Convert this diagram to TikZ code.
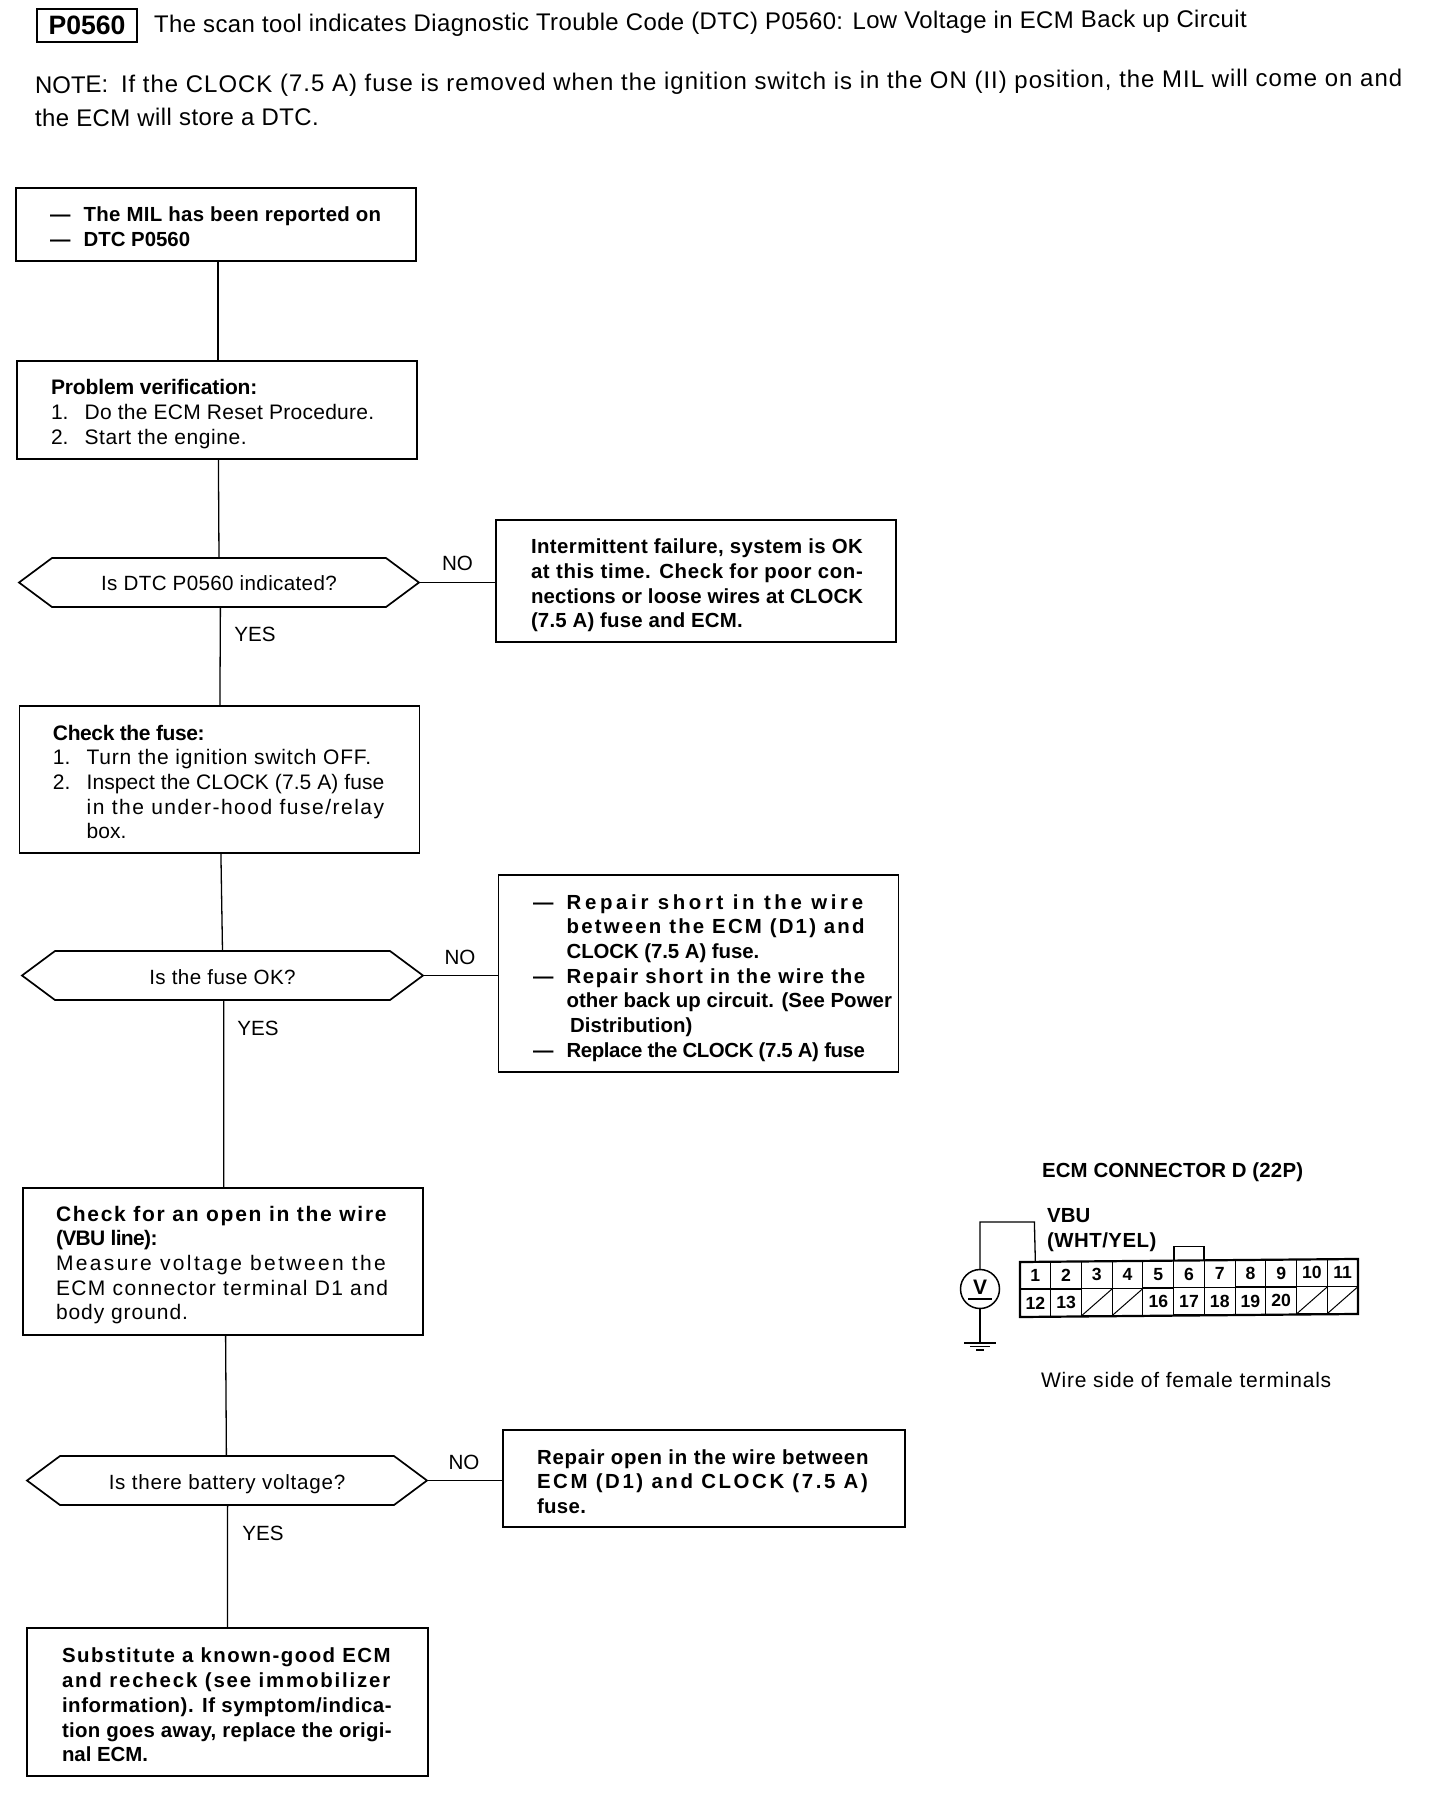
\documentclass[tikz,border=0pt]{standalone}
\usepackage{fontspec}
\usepackage{xstring}
\setmainfont{Liberation Sans}
\makeatletter
\newcommand{\fit}[2]{{\setbox0\hbox{#2}\StrLen{#2}[\fln]\StrCount{#2}{ }[\fsp]\pgfmathsetmacro{\lsv}{(#1*0.573-\the\wd0)/(\fln-\fsp)/\f@size*100}\addfontfeature{LetterSpace=\lsv}#2}}
\makeatother
\newcommand{\itm}[2]{\makebox[16.8pt][l]{#1}#2}
\newcommand{\cont}[1]{\hspace*{16.8pt}#1}
\newcommand{\hexa}[1]{\draw[bline] (#1.west) -- ([xshift=16.5pt]#1.north west) -- ([xshift=-16.5pt]#1.north east) -- (#1.east) -- ([xshift=-16.5pt]#1.south east) -- ([xshift=16.5pt]#1.south west) -- cycle;}
\tikzset{
  bline/.style={line width=0.85pt,black},
  wire/.style={line width=0.65pt,black},
  boxn/.style={draw,line width=0.85pt,inner sep=0pt,outer sep=0pt},
  hexn/.style={inner sep=0pt,outer sep=0pt,font=\fontsize{10.3}{12.4}\selectfont},
  txt/.style={anchor=west,align=left,inner sep=0pt,outer sep=0pt,font=\fontsize{10.5}{12.35}\selectfont},
  btxt/.style={txt,font=\fontsize{10.2}{12.35}\selectfont\bfseries},
  lbl/.style={inner sep=0pt,outer sep=0pt,font=\fontsize{10.3}{12}\selectfont},
  cell/.style={draw,line width=0.5pt,inner sep=0pt,outer sep=0pt,minimum width=15.36pt,minimum height=13.5pt,font=\fontsize{8.8}{10}\selectfont\bfseries},
}
\begin{document}
\begin{tikzpicture}[x=0.5pt,y=-0.5pt]
\useasboundingbox (0,0) rectangle (1456,1796);
% header
\node[draw,line width=0.9pt,inner sep=0pt,outer sep=0pt,minimum width=50pt,minimum height=16.5pt,font=\fontsize{13.3}{14}\selectfont\bfseries] (code) at (87,25.5) {P0560};
\node[txt,rotate=0.3,font=\fontsize{12}{13}\selectfont] (head) at (154,26.5) {\fit{954}{The scan tool indicates Diagnostic Trouble Code (DTC) P0560: Low Voltage in ECM Back up Circuit}};
\node[txt,rotate=0.3,font=\fontsize{12}{13}\selectfont] (note1) at (35,87) {\makebox[43pt][l]{NOTE:}\fit{1119}{If the CLOCK (7.5 A) fuse is removed when the ignition switch is in the ON (II) position, the MIL will come on and}};
\node[txt,rotate=0.3,font=\fontsize{12}{13}\selectfont] (note2) at (35,118) {\fit{248}{the ECM will store a DTC.}};
% flow boxes
\node[boxn,minimum width=200pt,minimum height=36.5pt] (b1) at (216,224.5) {};
\node[btxt] (b1t) at (50,227) {\itm{---}{\fit{260}{The MIL has been reported on}}\\\itm{---}{\fit{93}{DTC P0560}}};
\node[boxn,minimum width=200pt,minimum height=49pt] (b2) at (217,410) {};
\node[txt] (b2t) at (51,414) {{\bfseries\fit{180}{Problem verification:}}\\\itm{1.}{\fit{253}{Do the ECM Reset Procedure.}}\\\itm{2.}{\fit{142}{Start the engine.}}};
\node[hexn,minimum width=200pt,minimum height=24.5pt] (d1) at (219,582.5) {\raisebox{-4.2pt}[0pt][0pt]{\fit{206}{Is DTC P0560 indicated?}}};
\hexa{d1}
\node[boxn,minimum width=200pt,minimum height=61pt] (n1) at (696,581) {};
\node[btxt] (n1t) at (531,585.5) {\fit{290}{Intermittent failure, system is OK}\\\fit{290}{at this time. Check for poor con-}\\\fit{290}{nections or loose wires at CLOCK}\\\fit{185}{(7.5 A) fuse and ECM.}};
\node[boxn,minimum width=200pt,minimum height=73.5pt] (b3) at (219.5,779.5) {};
\node[txt] (b3t) at (53,782) {{\bfseries\fit{132}{Check the fuse:}}\\\itm{1.}{\fit{249}{Turn the ignition switch OFF.}}\\\itm{2.}{\fit{260}{Inspect the CLOCK (7.5 A) fuse}}\\\cont{\fit{261}{in the under-hood fuse/relay}}\\\cont{\fit{35}{box.}}};
\node[hexn,minimum width=200.5pt,minimum height=24.5pt] (d2) at (222.5,975.5) {\raisebox{-4.4pt}[0pt][0pt]{\fit{128}{Is the fuse OK?}}};
\hexa{d2}
\node[boxn,minimum width=200pt,minimum height=98.5pt] (n2) at (698.5,973.5) {};
\node[btxt] (n2t) at (533,978) {\itm{---}{\fit{262}{Repair short in the wire}}\\\cont{\fit{262}{between the ECM (D1) and}}\\\cont{\fit{168}{CLOCK (7.5 A) fuse.}}\\\itm{---}{\fit{262}{Repair short in the wire the}}\\\cont{\fit{284}{other back up circuit. (See Power}}\\\hspace*{18.5pt}\fit{107}{Distribution)}\\\itm{---}{\fit{260}{Replace the CLOCK (7.5 A) fuse}}};
\node[boxn,minimum width=200pt,minimum height=73.5pt] (b4) at (223,1261.5) {};
\node[txt] (b4t) at (56,1265) {{\bfseries\fit{290}{Check for an open in the wire}}\\{\bfseries\fit{88}{(VBU line):}}\\\fit{290}{Measure voltage between the}\\\fit{291}{ECM connector terminal D1 and}\\\fit{116}{body ground.}};
\node[hexn,minimum width=200pt,minimum height=24.5pt] (d3) at (227,1480.5) {\raisebox{-4.6pt}[0pt][0pt]{\fit{207}{Is there battery voltage?}}};
\hexa{d3}
\node[boxn,minimum width=201pt,minimum height=48.5pt] (n3) at (704,1478.5) {};
\node[btxt] (n3t) at (537,1481.5) {\fit{290}{Repair open in the wire between}\\\fit{291}{ECM (D1) and CLOCK (7.5 A)}\\\fit{43}{fuse.}};
\node[boxn,minimum width=200.5pt,minimum height=74pt] (b5) at (227.5,1702) {};
\node[btxt] (b5t) at (62,1705) {\fit{288}{Substitute a known-good ECM}\\\fit{288}{and recheck (see immobilizer}\\\fit{288}{information). If symptom/indica-}\\\fit{288}{tion goes away, replace the origi-}\\\fit{75}{nal ECM.}};
% connectors
\draw[wire] ([xshift=1pt]b1.south) -- ([xshift=0.5pt]b2.north);
\draw[wire] ([xshift=0.7pt]b2.south) -- (d1.north);
\draw[wire] ([xshift=0.7pt]d1.south) -- ([xshift=0.2pt]b3.north);
\draw[wire] ([xshift=0.7pt]b3.south) -- (d2.north);
\draw[wire] ([xshift=0.6pt]d2.south) -- ([xshift=0.4pt]b4.north);
\draw[wire] ([xshift=1.3pt]b4.south) -- ([xshift=-0.3pt]d3.north);
\draw[wire] ([xshift=0.3pt]d3.south) -- (b5.north);
\draw[bline] (d1.east) -- (d1.east -| n1.west);
\draw[bline] (d2.east) -- (d2.east -| n2.west);
\draw[bline] (d3.east) -- (d3.east -| n3.west);
% edge labels
\node[lbl] (l1n) at (457.5,563) {NO};
\node[lbl] (l1y) at (255,634) {YES};
\node[lbl] (l2n) at (460,957) {NO};
\node[lbl] (l2y) at (258,1028) {YES};
\node[lbl] (l3n) at (464,1462) {NO};
\node[lbl] (l3y) at (263,1533) {YES};
% connector figure
\node[lbl,anchor=west,font=\fontsize{10.2}{12}\selectfont\bfseries] (etitle) at (1042,1172) {\fit{228}{ECM CONNECTOR D (22P)}};
\node[lbl,anchor=west,align=left,font=\fontsize{10.2}{12.2}\selectfont\bfseries] (vbu) at (1047,1230) {\fit{38}{VBU}\\\fit{96}{(WHT/YEL)}};
\node[lbl,anchor=west,font=\fontsize{10.5}{12}\selectfont] (wside) at (1041,1380) {\fit{254}{Wire side of female terminals}};
\begin{scope}[shift={(1020,1262)},yslant=0.009]
  \foreach \n [count=\i] in {1,2,3,4,5,6,7,8,9,10,11}
    \node[cell] (c\i) at ({(\i-0.5)*30.73},13.5) {\n};
  \foreach \n/\i in {12/12,13/13,/14,/15,16/16,17/17,18/18,19/19,20/20,/21,/22}
    \node[cell] (c\i) at ({(\i-11.5)*30.73},41) {\n};
  \coordinate (oa) at (0,0);
  \coordinate (ob) at (338,0);
  \coordinate (oc) at (338,55);
  \coordinate (od) at (0,55);
  \draw[line width=1.1pt] (oa) -- (ob) -- (oc) -- (od) -- cycle;
\end{scope}
\foreach \i in {14,15,21,22}
  \draw[line width=0.5pt] (c\i.south west) -- (c\i.north east);
\draw[line width=0.9pt] (c6.north west) -- ++(0,-14) -| (c6.north east);
\node[draw,circle,line width=0.75pt,minimum size=19.5pt,inner sep=0pt,outer sep=0pt,font=\fontsize{10.5}{11}\selectfont\bfseries] (vm) at (980,1289) {\raisebox{1.5pt}{V}};
\draw[line width=0.9pt] ([xshift=-6pt,yshift=-5pt]vm.center) -- ([xshift=6pt,yshift=-5pt]vm.center);
\coordinate (wt) at (1034.4,1222);
\draw[wire] (vm.north) |- (wt) -- (c1.north);
\coordinate (gnd) at (980,1343);
\draw[wire] (vm.south) -- (gnd);
\draw[line width=0.7pt] ([xshift=-8pt]gnd) -- ([xshift=8pt]gnd);
\draw[line width=0.7pt] ([xshift=-5pt,yshift=-1.7pt]gnd) -- ([xshift=5pt,yshift=-1.7pt]gnd);
\draw[line width=0.7pt] ([xshift=-2pt,yshift=-3.4pt]gnd) -- ([xshift=2pt,yshift=-3.4pt]gnd);
\end{tikzpicture}
\end{document}
